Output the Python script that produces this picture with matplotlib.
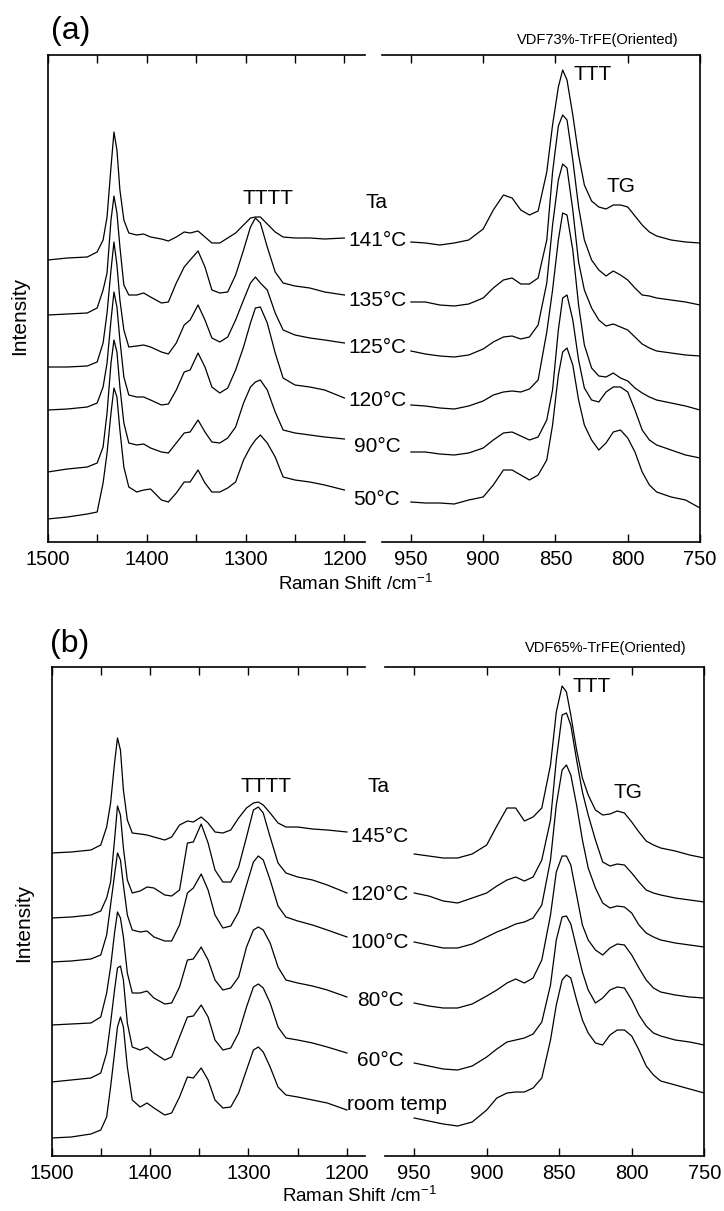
import matplotlib
matplotlib.use('Agg')
import matplotlib.pyplot as plt

plt.rcParams['font.family'] = ['Liberation Sans', 'DejaVu Sans']
plt.rcParams['mathtext.default'] = 'regular'

# ---------------- data (Raman shift grids, cm^-1) ----------------
W_LEFT = [1500, 1480, 1460, 1450, 1444, 1440, 1436, 1433, 1430, 1427, 1423, 1418, 1410,
          1403, 1396, 1385, 1378, 1370, 1362, 1356, 1348, 1341, 1334, 1326, 1318, 1310,
          1302, 1295, 1290, 1285, 1278, 1270, 1262, 1250, 1235, 1220, 1200]
W_RIGHT = [950, 940, 930, 920, 910, 900, 893, 886, 880, 874, 868, 862, 856, 852, 848, 845,
           842, 838, 834, 830, 825, 820, 815, 810, 805, 800, 795, 790, 785, 780, 770, 760, 750]

# Panel (a): VDF73%-TrFE, stacked intensities (arb. units)
temps_a = ['141°C', '135°C', '125°C', '120°C', '90°C', '50°C']
a141_L = [282, 284, 285, 290, 302, 325, 375, 410, 392, 352, 322, 309, 307, 308, 305, 303, 301,
          305, 310, 309, 311, 305, 299, 299, 304, 309, 317, 324, 325, 325, 318, 310, 305, 304,
          304, 303, 304]
a135_L = [227, 228, 229, 234, 252, 269, 322, 346, 329, 295, 257, 247, 247, 249, 245, 239, 240,
          259, 275, 282, 291, 275, 252, 249, 250, 267, 292, 315, 324, 319, 295, 270, 259, 256,
          254, 250, 247]
a125_L = [175, 175, 176, 180, 199, 229, 272, 300, 277, 242, 212, 195, 196, 197, 195, 190, 188,
          199, 217, 222, 237, 222, 204, 200, 205, 222, 242, 259, 265, 259, 252, 229, 212, 207,
          204, 202, 199]
a120_L = [132, 133, 135, 139, 155, 179, 222, 250, 235, 202, 165, 147, 145, 145, 142, 137, 138,
          152, 170, 172, 189, 175, 155, 149, 154, 172, 195, 219, 234, 235, 219, 189, 164, 157,
          155, 152, 144]
a90_L = [70, 73, 75, 79, 95, 129, 179, 202, 190, 155, 119, 99, 97, 98, 94, 90, 89, 99, 109,
         110, 122, 110, 100, 99, 104, 115, 139, 155, 160, 162, 152, 130, 112, 109, 107, 105, 103]
a50_L = [23, 25, 28, 30, 59, 89, 129, 154, 145, 112, 75, 55, 50, 52, 53, 42, 40, 49, 60, 60,
         72, 59, 50, 50, 54, 60, 82, 95, 102, 107, 99, 85, 65, 62, 60, 57, 52]

a141_R = [300, 299, 297, 299, 302, 313, 332, 347, 344, 332, 327, 331, 370, 417, 455, 472, 462,
          427, 387, 357, 341, 335, 333, 337, 337, 335, 326, 317, 310, 306, 302, 300, 299]
a135_R = [240, 240, 237, 236, 238, 244, 254, 262, 264, 258, 258, 264, 302, 370, 416, 427, 422,
          382, 335, 302, 282, 272, 266, 271, 267, 262, 254, 247, 246, 244, 242, 240, 237]
a125_R = [191, 188, 186, 185, 187, 193, 200, 205, 206, 203, 205, 217, 259, 317, 362, 378, 374,
          332, 280, 252, 234, 222, 216, 218, 215, 212, 205, 198, 194, 191, 189, 187, 186]
a120_R = [137, 136, 134, 133, 136, 141, 147, 150, 151, 150, 153, 162, 210, 252, 302, 329, 327,
          292, 237, 197, 174, 166, 165, 169, 164, 161, 154, 149, 145, 142, 139, 136, 132]
a90_R = [90, 90, 88, 87, 89, 94, 102, 109, 110, 106, 102, 105, 122, 152, 212, 244, 247, 222,
         182, 154, 142, 140, 150, 155, 155, 150, 132, 112, 102, 97, 92, 87, 84]
a50_R = [40, 39, 39, 38, 42, 45, 57, 72, 72, 67, 62, 67, 82, 117, 167, 190, 194, 177, 142, 117,
         102, 92, 99, 110, 112, 104, 90, 70, 57, 50, 45, 42, 34]

# Panel (b): VDF65%-TrFE
temps_b = ['145°C', '120°C', '100°C', '80°C', '60°C', 'room temp']
b145_L = [303, 304, 306, 311, 329, 353, 393, 418, 406, 366, 336, 323, 322, 321, 319, 316, 319,
          331, 335, 334, 339, 333, 324, 323, 326, 338, 348, 353, 354, 351, 343, 333, 329, 329,
          327, 326, 324]
b120_L = [238, 239, 241, 245, 258, 274, 316, 350, 341, 308, 276, 263, 265, 269, 268, 261, 260,
          266, 313, 314, 332, 313, 286, 274, 274, 289, 319, 346, 349, 343, 319, 293, 283, 279,
          276, 271, 263]
b100_L = [194, 195, 197, 201, 221, 251, 281, 303, 296, 271, 241, 226, 224, 225, 219, 215, 215,
          231, 263, 268, 282, 266, 241, 228, 230, 244, 271, 294, 300, 296, 276, 250, 239, 235,
          231, 226, 219]
b80_L = [131, 132, 133, 139, 163, 189, 223, 244, 238, 219, 183, 163, 163, 165, 158, 152, 153,
         169, 196, 197, 209, 196, 176, 166, 168, 179, 209, 226, 229, 226, 213, 189, 176, 173,
         170, 166, 159]
b60_L = [74, 76, 78, 83, 103, 133, 166, 188, 190, 176, 133, 109, 106, 109, 103, 96, 99, 119,
         139, 140, 151, 139, 116, 106, 108, 123, 149, 169, 172, 168, 153, 129, 118, 116, 113,
         109, 103]
brt_L = [18, 19, 22, 26, 39, 69, 103, 129, 139, 129, 89, 56, 49, 53, 48, 41, 43, 59, 79, 78,
         88, 76, 56, 48, 49, 63, 86, 106, 109, 104, 89, 69, 61, 59, 56, 53, 46]

b145_R = [302, 300, 298, 298, 302, 311, 330, 348, 348, 335, 339, 348, 391, 444, 470, 464, 441,
          406, 378, 361, 346, 341, 342, 345, 343, 334, 324, 315, 311, 308, 305, 301, 298]
b120_R = [263, 260, 255, 253, 258, 263, 270, 276, 279, 275, 279, 296, 336, 396, 441, 443, 431,
          396, 364, 341, 316, 294, 290, 292, 291, 283, 274, 266, 263, 261, 258, 256, 254]
b100_R = [214, 211, 208, 208, 212, 219, 224, 228, 232, 234, 238, 251, 296, 351, 386, 391, 381,
          351, 316, 288, 268, 253, 248, 250, 249, 243, 231, 223, 219, 216, 213, 211, 209]
b80_R = [153, 150, 148, 148, 152, 160, 166, 173, 177, 173, 178, 196, 241, 284, 300, 300, 291,
         261, 231, 216, 206, 201, 208, 212, 211, 201, 188, 176, 168, 164, 161, 159, 158]
b60_R = [93, 90, 87, 86, 90, 99, 107, 114, 116, 118, 122, 134, 171, 216, 239, 240, 232, 208,
         184, 166, 153, 158, 166, 169, 168, 156, 141, 130, 123, 120, 116, 114, 111]
brt_R = [38, 35, 32, 30, 34, 46, 58, 63, 64, 64, 68, 78, 116, 151, 176, 181, 178, 156, 136, 123,
         113, 111, 121, 126, 126, 120, 106, 90, 81, 75, 71, 67, 63]

A_LEFT = [a141_L, a135_L, a125_L, a120_L, a90_L, a50_L]
A_RIGHT = [a141_R, a135_R, a125_R, a120_R, a90_R, a50_R]
B_LEFT = [b145_L, b120_L, b100_L, b80_L, b60_L, brt_L]
B_RIGHT = [b145_R, b120_R, b100_R, b80_R, b60_R, brt_R]

# ---------------- figure ----------------
FW, FH = 724, 1211
fig = plt.figure(figsize=(FW / 100, FH / 100), dpi=100)


def rect(x0, y0, x1, y1):
    return [x0 / FW, 1 - y1 / FH, (x1 - x0) / FW, (y1 - y0) / FH]


def ftext(x, y, s, **kw):
    kw.setdefault('ha', 'center')
    kw.setdefault('va', 'center')
    fig.text(x / FW, 1 - y / FH, s, **kw)


def style(ax, side):
    for sp in ax.spines.values():
        sp.set_linewidth(1.2)
    if side == 'left':
        ax.spines['right'].set_visible(False)
    else:
        ax.spines['left'].set_visible(False)
    ax.set_yticks([])
    ax.tick_params(axis='x', which='both', direction='in', top=True, bottom=True,
                   length=6, width=1, labelsize=14.5, pad=6)


def panel(box_l, box_r, xlim_l, xlim_r, ylim, left_data, right_data):
    axl = fig.add_axes(rect(*box_l))
    axr = fig.add_axes(rect(*box_r))
    for y in left_data:
        axl.plot(W_LEFT, y, color='black', lw=0.9)
    for y in right_data:
        axr.plot(W_RIGHT, y, color='black', lw=0.9)
    axl.set_xlim(*xlim_l)
    axr.set_xlim(*xlim_r)
    axl.set_ylim(*ylim)
    axr.set_ylim(*ylim)
    style(axl, 'left')
    style(axr, 'right')
    lt = list(range(1500, 1199, -50))
    axl.set_xticks(lt)
    axl.set_xticklabels([str(t) if t % 100 == 0 else '' for t in lt])
    rt = [950, 900, 850, 800, 750]
    axr.set_xticks(rt)
    axr.set_xticklabels([str(t) for t in rt])
    return axl, axr


# panel (a)
panel((47.7, 55, 365.2, 542), (382, 55, 700, 542), (1500, 1179), (970, 750), (0, 487),
      A_LEFT, A_RIGHT)
# panel (b)
panel((51.5, 667, 364.7, 1156), (385.2, 667, 704.2, 1156), (1500, 1182), (970, 750), (0, 489),
      B_LEFT, B_RIGHT)

# ---------------- texts ----------------
FS = 15
ftext(71, 31, '(a)', fontsize=23)
ftext(70, 644, '(b)', fontsize=23)

ftext(598, 40, 'VDF73%-TrFE(Oriented)', fontsize=10.5)
ftext(606, 648, 'VDF65%-TrFE(Oriented)', fontsize=10.5)

ftext(20, 316, 'Intensity', fontsize=FS, rotation=90)
ftext(24, 923, 'Intensity', fontsize=FS, rotation=90)

ftext(356, 584, 'Raman Shift /cm$^{-1}$', fontsize=13.5)
ftext(360, 1196, 'Raman Shift /cm$^{-1}$', fontsize=13.5)

ftext(268, 198, 'TTTT', fontsize=FS)
ftext(376, 202, 'Ta', fontsize=FS)
ftext(593, 74, 'TTT', fontsize=FS)
ftext(621, 187, 'TG', fontsize=FS)

ftext(266, 786, 'TTTT', fontsize=FS)
ftext(379, 786, 'Ta', fontsize=FS)
ftext(592, 687, 'TTT', fontsize=FS)
ftext(628, 793, 'TG', fontsize=FS)

label_y_a = [240, 301, 348, 401, 447, 500]
for t, yy in zip(temps_a, label_y_a):
    ftext(377, yy, t, fontsize=FS)

label_y_b = [837, 894, 943, 1000, 1061, 1104]
for t, yy in zip(temps_b, label_y_b):
    if t == 'room temp':
        ftext(347, yy, t, fontsize=FS, ha='left')
    else:
        ftext(380, yy, t, fontsize=FS)

fig.savefig('out.png', dpi=100, facecolor='white')
